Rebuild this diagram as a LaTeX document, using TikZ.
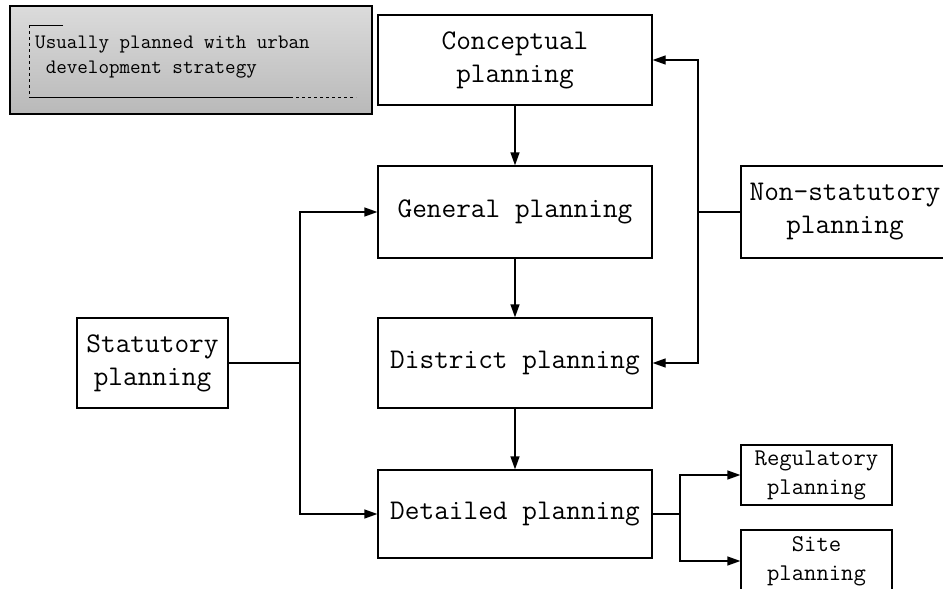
\documentclass[tikz,border=0pt]{standalone}
\usetikzlibrary{arrows.meta}
\begin{document}
\begin{tikzpicture}[x=1pt,y=-1pt,
 box/.style={draw, line width=1.3pt, align=center, inner sep=0pt, font=\ttfamily\fontsize{28.5}{33}\selectfont},
 small/.style={draw, line width=1.3pt, align=center, inner sep=0pt, font=\ttfamily\fontsize{24}{29}\selectfont},
 arr/.style={line width=1.3pt, -{Triangle[length=13pt,width=9pt]}},
 ln/.style={line width=1.3pt}]
\useasboundingbox (0,0) rectangle (943,589);
% note
\node[draw, line width=1.3pt, minimum width=362pt, minimum height=108pt, inner sep=0pt,
      top color=gray!28, bottom color=gray!55] (note) at (191,60) {};
\node[anchor=north west, align=left, inner sep=0pt, font=\ttfamily\fontsize{20.5}{25}\selectfont] (notetext) at (35,36)
  {Usually planned with urban\\\hphantom{ }development strategy};
\coordinate (b1) at (63,25);
\coordinate (b2) at (29,25);
\coordinate (b3) at (29,97);
\coordinate (b4) at (290,97);
\coordinate (b5) at (356,97);
\draw[line width=1pt] (b1) -- (b2);
\draw[line width=1pt, dashed] (b2) -- (b3);
\draw[line width=1pt] (b3) -- (b4);
\draw[line width=1pt, dashed] (b4) -- (b5);
% main boxes
\node[box, minimum width=274pt, minimum height=90pt] (con) at (515,60) {Conceptual\\planning};
\node[box, minimum width=274pt, minimum height=92pt] (gen) at (515,212) {General planning};
\node[box, minimum width=274pt, minimum height=90pt] (dis) at (515,363) {District planning};
\node[box, minimum width=274pt, minimum height=88pt] (det) at (515,514) {Detailed planning};
\node[box, minimum width=208pt, minimum height=92pt] (non) at (845,212) {Non-statutory\\planning};
\node[box, minimum width=151pt, minimum height=90pt] (stat) at (152.5,363) {Statutory\\planning};
\node[small, minimum width=151pt, minimum height=60pt] (reg) at (816.5,475) {Regulatory\\planning};
\node[small, minimum width=151pt, minimum height=62pt] (site) at (816.5,561) {Site\\planning};
% connectors
\draw[arr] (con) -- (gen);
\draw[arr] (gen) -- (dis);
\draw[arr] (dis) -- (det);
\coordinate (nj) at (698,212);
\draw[ln] (non.west) -- (nj);
\draw[arr] (nj) |- (con.east);
\draw[arr] (nj) |- (dis.east);
\coordinate (sj) at (300,363);
\draw[ln] (stat.east) -- (sj);
\draw[arr] (sj) |- (gen.west);
\draw[arr] (sj) |- (det.west);
\coordinate (dj) at (680,514);
\draw[ln] (det.east) -- (dj);
\draw[arr] (dj) |- (reg.west);
\draw[arr] (dj) |- (site.west);
\end{tikzpicture}
\end{document}
